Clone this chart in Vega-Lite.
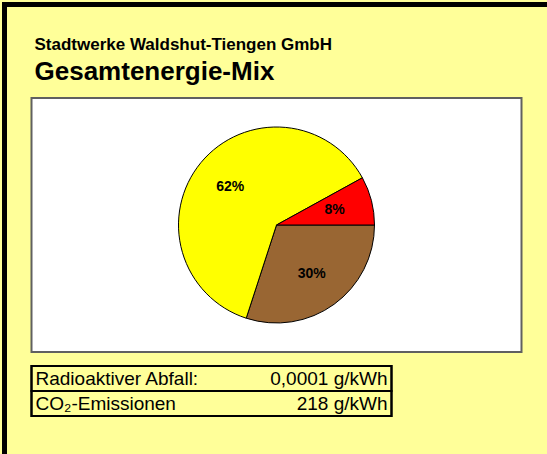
{
  "$schema": "https://vega.github.io/schema/vega-lite/v6.json",
  "background": "#FFFF99",
  "padding": {"left": 2, "top": 2, "right": 0, "bottom": 0},
  "config": {"font": "Liberation Sans", "view": {"stroke": null}},
  "spacing": 0,
  "hconcat": [
    {
      "width": 5,
      "height": 452,
      "data": {"values": []},
      "mark": "rect",
      "view": {"fill": "black", "stroke": null}
    },
    {
      "spacing": 29,
      "center": true,
      "vconcat": [
        {
          "width": 540,
          "height": 5,
          "data": {"values": []},
          "mark": "rect",
          "view": {"fill": "black", "stroke": null}
        },
        {
          "spacing": 11,
          "title": {
            "text": "Stadtwerke Waldshut-Tiengen GmbH",
            "subtitle": "Gesamtenergie-Mix",
            "anchor": "start",
            "dx": 5,
            "font": "Liberation Sans",
            "subtitleFont": "Liberation Sans",
            "fontSize": 17,
            "fontWeight": "bold",
            "color": "black",
            "subtitleFontSize": 26,
            "subtitleFontWeight": "bold",
            "subtitleColor": "black",
            "subtitlePadding": 5,
            "offset": 11
          },
          "vconcat": [
            {
              "width": 490,
              "height": 254,
              "view": {"fill": "white", "stroke": "#606060", "strokeWidth": 2},
              "data": {
                "values": [
                  {"quelle": "Fossile Energieträger", "anteil": 30, "reihenfolge": 1, "label": "30%"},
                  {"quelle": "Erneuerbare Energien", "anteil": 62, "reihenfolge": 2, "label": "62%"},
                  {"quelle": "Kernkraft", "anteil": 8, "reihenfolge": 3, "label": "8%"}
                ]
              },
              "encoding": {
                "theta": {"field": "anteil", "type": "quantitative", "stack": true, "scale": {"range": [1.5708, 7.854]}},
                "order": {"field": "reihenfolge", "type": "quantitative"}
              },
              "layer": [
                {
                  "mark": {"type": "arc", "outerRadius": 98, "stroke": "black", "strokeWidth": 1},
                  "encoding": {
                    "color": {
                      "field": "quelle",
                      "type": "nominal",
                      "scale": {"domain": ["Fossile Energieträger", "Erneuerbare Energien", "Kernkraft"], "range": ["#996633", "#FFFF00", "#FF0000"]},
                      "legend": null
                    }
                  }
                },
                {
                  "mark": {"type": "text", "radius": 60, "fontWeight": "bold", "fontSize": 14, "color": "black", "font": "Liberation Sans"},
                  "encoding": {"text": {"field": "label"}}
                }
              ]
            },
            {
              "width": 360,
              "height": 50,
              "view": {"stroke": "black", "strokeWidth": 2, "fill": null},
              "data": {
                "values": [
                  {"zeile": 1, "bezeichnung": "Radioaktiver Abfall:", "wert": "0,0001 g/kWh"},
                  {"zeile": 2, "bezeichnung": "CO₂-Emissionen", "wert": "218 g/kWh"}
                ]
              },
              "encoding": {
                "y": {"field": "zeile", "type": "ordinal", "axis": null, "scale": {"paddingInner": 0, "paddingOuter": 0}}
              },
              "layer": [
                {"mark": {"type": "rect", "fill": "transparent", "stroke": "black", "strokeWidth": 2}},
                {
                  "mark": {"type": "text", "align": "left", "dx": 4, "fontSize": 19, "color": "black"},
                  "encoding": {
                    "text": {"field": "bezeichnung"},
                    "x": {"datum": 0, "type": "quantitative", "scale": {"domain": [0, 1]}, "axis": null}
                  }
                },
                {
                  "mark": {"type": "text", "align": "right", "dx": -4, "fontSize": 19, "color": "black"},
                  "encoding": {
                    "text": {"field": "wert"},
                    "x": {"datum": 1, "type": "quantitative", "axis": null}
                  }
                }
              ]
            }
          ]
        }
      ]
    }
  ]
}
